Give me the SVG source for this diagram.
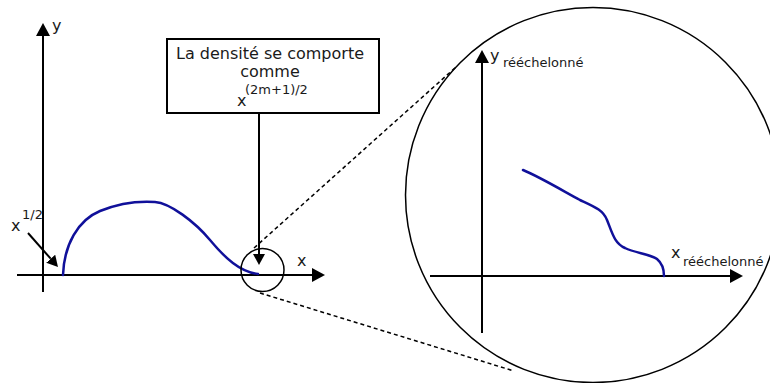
<svg xmlns="http://www.w3.org/2000/svg" width="770" height="383" viewBox="0 0 770 383">
<style>
.ax{stroke:#000;stroke-width:2;fill:none}
.thin{stroke:#000;stroke-width:1.5;fill:none}
.dash{stroke:#000;stroke-width:1.5;fill:none;stroke-dasharray:4,3}
.curve{stroke:#10109a;stroke-width:2.5;fill:none;stroke-linecap:round}
.t{font-family:"DejaVu Sans","Liberation Sans",sans-serif;fill:#1a1a1a}
.big{font-size:16px}
.sm{font-size:13px}
</style>
<defs>
<marker id="ah" viewBox="0 0 13 14" refX="0" refY="7" markerWidth="13" markerHeight="14" markerUnits="userSpaceOnUse" orient="auto">
<path d="M0,0 L13,7 L0,14 z" fill="#000"/>
</marker>
<marker id="ahs" viewBox="0 0 11 12" refX="0" refY="6" markerWidth="11" markerHeight="12" markerUnits="userSpaceOnUse" orient="auto">
<path d="M0,0 L11,6 L0,12 z" fill="#000"/>
</marker>
</defs>
<g id="left-axes">
<line class="ax" x1="43" y1="292" x2="43" y2="36" marker-end="url(#ah)"/>
<line class="ax" x1="17" y1="275" x2="312" y2="275" marker-end="url(#ah)"/>
<text class="t big" x="52" y="31">y</text>
<text class="t big" x="297" y="266">x</text>
</g>
<g id="left-curve">
<path class="curve" d="M63,275 C64,245 78,220 100,211 S140,201 155,202 S195,222 210,240 S240,272 258,274"/>
</g>
<g id="label-sqrt">
<text class="t big" x="11" y="231">x</text>
<text class="t sm" x="22" y="219">1/2</text>
</g>
<g id="zoom-circle">
<circle class="thin" cx="262.5" cy="270" r="21.5"/>
</g>
<g id="box">
<rect x="167" y="39" width="212" height="74" fill="#fff" stroke="#000" stroke-width="2"/>
<text class="t big" x="270" y="59" text-anchor="middle">La densité se comporte</text>
<text class="t big" x="270" y="77" text-anchor="middle">comme</text>
<text class="t sm" x="245" y="94">(2m+1)/2</text>
<text class="t big" x="237" y="106">x</text>
</g>
<g id="big-circle">
<circle class="thin" cx="593" cy="195" r="187.5"/>
<line class="ax" x1="482" y1="333" x2="482" y2="63" marker-end="url(#ah)"/>
<line class="ax" x1="430" y1="276" x2="730" y2="276" marker-end="url(#ah)"/>
<text class="t big" x="490" y="61">y</text>
<text class="t sm" x="503" y="67">rééchelonné</text>
<text class="t big" x="671" y="258">x</text>
<text class="t sm" x="683" y="266">rééchelonné</text>
<path class="curve" d="M523,170 C540,177 565,192 580,200 C595,207 603,210 607,220 C612,232 614,243 625,248 C635,253 650,254 657,259 C663,264 664,270 664,276"/>
</g>
<g id="connectors">
<line class="ax" x1="259" y1="113" x2="259" y2="254" marker-end="url(#ahs)"/>
<line class="ax" x1="28" y1="233" x2="50.7" y2="258.7" marker-end="url(#ahs)"/>
<line class="dash" x1="254" y1="248" x2="456" y2="67"/>
<line class="dash" x1="260" y1="293" x2="514" y2="371"/>
</g>
</svg>
